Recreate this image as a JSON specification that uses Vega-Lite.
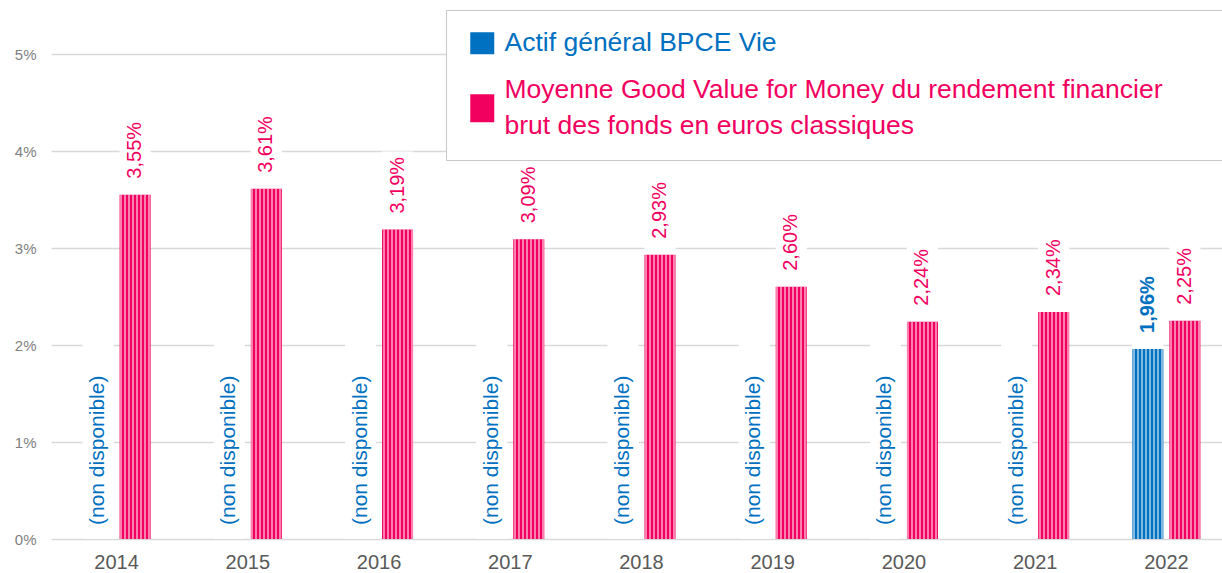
{
  "$schema": "https://vega.github.io/schema/vega-lite/v6.json",
  "autosize": {"type": "none"},
  "padding": {"left": 50, "top": 54, "right": 0, "bottom": 34},
  "width": 1172,
  "height": 485,
  "background": "white",
  "config": {
    "font": "Liberation Sans",
    "view": {"stroke": null},
    "locale": {"number": {"decimal": ",", "thousands": " ", "grouping": [3], "currency": ["", " €"]}},
    "axisY": {"tickCount": 5, "format": ".0%", "domain": false, "ticks": false, "labelFontSize": 15, "labelColor": "#7F7F7F", "labelPadding": 14, "gridColor": "#D9D9D9", "gridWidth": 1.5, "labelFont": "Liberation Sans"},
    "axisX": {"domain": false, "ticks": false, "labelFontSize": 20, "labelColor": "#595959", "labelPadding": 13, "labelAngle": 0, "grid": false, "labelFont": "Liberation Sans"}
  },
  "data": {"values": [
    {"year": "2014", "series": "Actif général BPCE Vie", "v": null},
    {"year": "2014", "series": "Moyenne Good Value for Money", "v": 0.0355},
    {"year": "2015", "series": "Actif général BPCE Vie", "v": null},
    {"year": "2015", "series": "Moyenne Good Value for Money", "v": 0.0361},
    {"year": "2016", "series": "Actif général BPCE Vie", "v": null},
    {"year": "2016", "series": "Moyenne Good Value for Money", "v": 0.0319},
    {"year": "2017", "series": "Actif général BPCE Vie", "v": null},
    {"year": "2017", "series": "Moyenne Good Value for Money", "v": 0.0309},
    {"year": "2018", "series": "Actif général BPCE Vie", "v": null},
    {"year": "2018", "series": "Moyenne Good Value for Money", "v": 0.0293},
    {"year": "2019", "series": "Actif général BPCE Vie", "v": null},
    {"year": "2019", "series": "Moyenne Good Value for Money", "v": 0.0260},
    {"year": "2020", "series": "Actif général BPCE Vie", "v": null},
    {"year": "2020", "series": "Moyenne Good Value for Money", "v": 0.0224},
    {"year": "2021", "series": "Actif général BPCE Vie", "v": null},
    {"year": "2021", "series": "Moyenne Good Value for Money", "v": 0.0234},
    {"year": "2022", "series": "Actif général BPCE Vie", "v": 0.0196},
    {"year": "2022", "series": "Moyenne Good Value for Money", "v": 0.0225}
  ]},
  "encoding": {
    "x": {"field": "year", "type": "nominal", "title": null, "scale": {"range": [1, 1182], "paddingInner": 0.4817, "paddingOuter": 0.24085}},
    "xOffset": {"field": "series", "type": "nominal", "scale": {"domain": ["Actif général BPCE Vie", "Moyenne Good Value for Money"], "paddingInner": 0.162, "paddingOuter": 0}}
  },
  "layer": [
    {
      "transform": [{"filter": "isValid(datum.v)"}],
      "mark": {"type": "bar", "color": "white", "y2Offset": -78},
      "encoding": {
        "y": {"field": "v", "type": "quantitative", "title": null, "scale": {"domain": [0, 0.05], "nice": false}},
        "y2": {"field": "v"}
      }
    },
    {
      "transform": [{"filter": "!isValid(datum.v)"}],
      "mark": {"type": "bar", "color": "white"},
      "encoding": {
        "y": {"datum": 0, "type": "quantitative", "title": null, "scale": {"domain": [0, 0.05], "nice": false}},
        "y2": {"datum": 0.0205}
      }
    },
    {
      "transform": [{"filter": "isValid(datum.v)"}],
      "mark": {"type": "bar"},
      "encoding": {
        "y": {"field": "v", "type": "quantitative", "title": null, "scale": {"domain": [0, 0.05], "nice": false}},
        "color": {
          "field": "series", "type": "nominal",
          "scale": {"domain": ["Actif général BPCE Vie", "Moyenne Good Value for Money"], "range": ["#0070C0", "#F2005F"]},
          "legend": {
            "orient": "none", "legendX": 396, "legendY": -44, "title": null,
            "fillColor": "white", "strokeColor": "#C8C8C8", "padding": 20,
            "labelFontSize": 26.5, "labelFont": "Liberation Sans", "labelLimit": 1000,
            "symbolSize": 484, "symbolStrokeWidth": 0, "symbolOpacity": 1,
            "labelOffset": 12, "rowPadding": 20,
            "labelColor": {"expr": "datum.value == 'Actif général BPCE Vie' ? '#0070C0' : '#F2005F'"},
            "labelExpr": "datum.value == 'Actif général BPCE Vie' ? datum.label : ['Moyenne Good Value for Money du rendement financier            \u200b', 'brut des fonds en euros classiques']",
            "encode": {
              "labels": {"update": {"lineHeight": {"value": 36}}},
              "symbols": {"update": {"shape": {"signal": "datum.value == 'Actif général BPCE Vie' ? 'M-0.818,-1H1.364V1H-0.818Z' : 'M-0.818,0.364H1.364V2.909H-0.818Z'"}}}
            }
          }
        }
      }
    },
    {
      "transform": [{"filter": "isValid(datum.v)"}],
      "mark": {"type": "bar", "fill": {"gradient": "linear", "x1": 0, "x2": 1, "y1": 0, "y2": 0, "stops": [
        {"offset": 0, "color": "rgba(255,255,255,0)"},
        {"offset": 0.0161, "color": "rgba(255,255,255,0)"}, {"offset": 0.0161, "color": "rgba(255,255,255,0.5)"}, {"offset": 0.0806, "color": "rgba(255,255,255,0.5)"}, {"offset": 0.0806, "color": "rgba(255,255,255,0)"},
        {"offset": 0.1452, "color": "rgba(255,255,255,0)"}, {"offset": 0.1452, "color": "rgba(255,255,255,0.5)"}, {"offset": 0.2097, "color": "rgba(255,255,255,0.5)"}, {"offset": 0.2097, "color": "rgba(255,255,255,0)"},
        {"offset": 0.2742, "color": "rgba(255,255,255,0)"}, {"offset": 0.2742, "color": "rgba(255,255,255,0.5)"}, {"offset": 0.3387, "color": "rgba(255,255,255,0.5)"}, {"offset": 0.3387, "color": "rgba(255,255,255,0)"},
        {"offset": 0.4032, "color": "rgba(255,255,255,0)"}, {"offset": 0.4032, "color": "rgba(255,255,255,0.5)"}, {"offset": 0.4677, "color": "rgba(255,255,255,0.5)"}, {"offset": 0.4677, "color": "rgba(255,255,255,0)"},
        {"offset": 0.5323, "color": "rgba(255,255,255,0)"}, {"offset": 0.5323, "color": "rgba(255,255,255,0.5)"}, {"offset": 0.5968, "color": "rgba(255,255,255,0.5)"}, {"offset": 0.5968, "color": "rgba(255,255,255,0)"},
        {"offset": 0.6613, "color": "rgba(255,255,255,0)"}, {"offset": 0.6613, "color": "rgba(255,255,255,0.5)"}, {"offset": 0.7258, "color": "rgba(255,255,255,0.5)"}, {"offset": 0.7258, "color": "rgba(255,255,255,0)"},
        {"offset": 0.7903, "color": "rgba(255,255,255,0)"}, {"offset": 0.7903, "color": "rgba(255,255,255,0.5)"}, {"offset": 0.8548, "color": "rgba(255,255,255,0.5)"}, {"offset": 0.8548, "color": "rgba(255,255,255,0)"},
        {"offset": 0.9194, "color": "rgba(255,255,255,0)"}, {"offset": 0.9194, "color": "rgba(255,255,255,0.5)"}, {"offset": 0.9839, "color": "rgba(255,255,255,0.5)"}, {"offset": 0.9839, "color": "rgba(255,255,255,0)"},
        {"offset": 1, "color": "rgba(255,255,255,0)"}
      ]}},
      "encoding": {
        "y": {"field": "v", "type": "quantitative", "title": null, "scale": {"domain": [0, 0.05], "nice": false}}
      }
    },
    {
      "transform": [{"filter": "isValid(datum.v) && datum.series != 'Actif général BPCE Vie'"}],
      "mark": {"type": "text", "angle": 270, "align": "left", "baseline": "middle", "yOffset": -16, "fontSize": 20, "color": "#F2005F"},
      "encoding": {
        "y": {"field": "v", "type": "quantitative", "title": null, "scale": {"domain": [0, 0.05], "nice": false}},
        "text": {"field": "v", "type": "quantitative", "format": ".2%"}
      }
    },
    {
      "transform": [{"filter": "isValid(datum.v) && datum.series == 'Actif général BPCE Vie'"}],
      "mark": {"type": "text", "angle": 270, "align": "left", "baseline": "middle", "yOffset": -16, "fontSize": 20, "fontWeight": "bold", "color": "#0070C0"},
      "encoding": {
        "y": {"field": "v", "type": "quantitative", "title": null, "scale": {"domain": [0, 0.05], "nice": false}},
        "text": {"field": "v", "type": "quantitative", "format": ".2%"}
      }
    },
    {
      "transform": [{"filter": "!isValid(datum.v)"}],
      "mark": {"type": "text", "angle": 270, "align": "left", "baseline": "middle", "yOffset": -14, "fontSize": 21, "color": "#0070C0", "text": "(non disponible)"},
      "encoding": {
        "y": {"datum": 0, "type": "quantitative", "title": null, "scale": {"domain": [0, 0.05], "nice": false}}
      }
    }
  ]
}
